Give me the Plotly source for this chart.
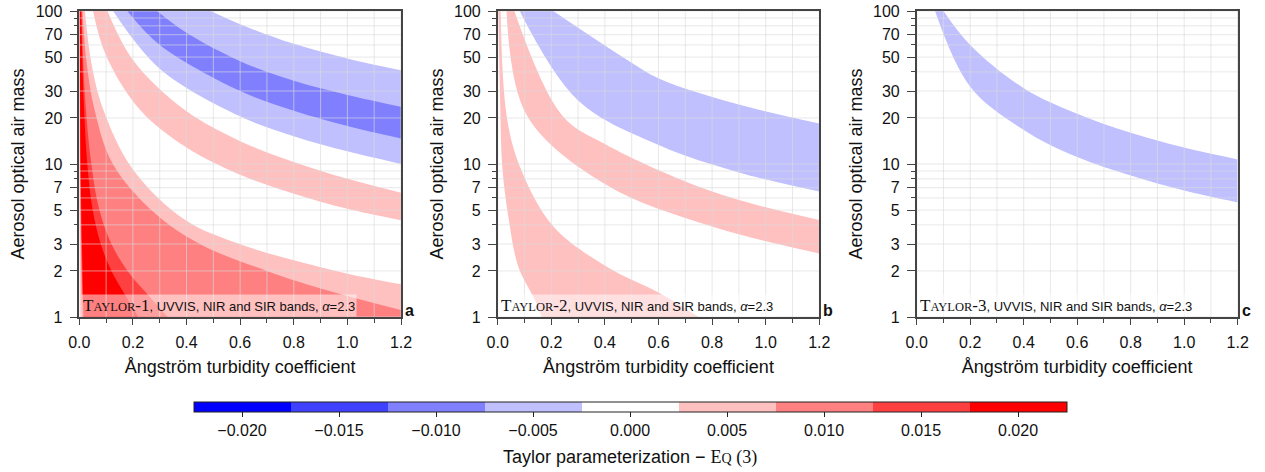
import plotly.graph_objects as go

# ---------------- data ----------------
BETA_MAX = 1.2
M_MIN, M_MAX = 1, 100

LEVELS = [-0.0225, -0.0175, -0.0125, -0.0075, -0.0025, 0.0025, 0.0075, 0.0125, 0.0175, 0.0225]
LEVEL_COLORS = ["#0000FF", "#4040FF", "#8080FF", "#C0C0FF", "#FFFFFF",
                "#FFC0C0", "#FF8080", "#FF4040", "#FF0000"]
CBAR_TICKS = [-0.020, -0.015, -0.010, -0.005, 0.000, 0.005, 0.010, 0.015, 0.020]

X_TICKS = [0.0, 0.2, 0.4, 0.6, 0.8, 1.0, 1.2]
X_MINOR = [0.1, 0.3, 0.5, 0.7, 0.9, 1.1]
Y_TICKS = [1, 2, 3, 5, 7, 10, 20, 30, 50, 70, 100]
Y_MINOR = [4, 6, 8, 9, 40, 60, 80, 90]

# Contour boundaries: (beta values, air-mass values), listed from the top edge downwards.
# Panel a (Taylor-1)
a_white_pink_beta = [0.0004, 0.001, 0.002, 0.004]
a_white_pink_m = [100, 10, 3, 1]
a_pink_rise_beta = [0.0008, 0.003, 0.006, 0.010]
a_pink_rise_m = [100, 10, 3, 1]
a_mid_rise_beta = [0.0012, 0.004, 0.008, 0.013]
a_mid_rise_m = [100, 10, 3, 1]
a_red_rise_beta = [0.0016, 0.005, 0.010, 0.016]
a_red_rise_m = [100, 10, 3, 1]
a_red_fall_beta = [0.007, 0.015, 0.03, 0.05, 0.08, 0.12, 0.16, 0.22]
a_red_fall_m = [100, 30, 10, 5, 3, 2, 1.5, 1]
a_mid_fall_beta = [0.009, 0.02, 0.045, 0.075, 0.12, 0.18, 0.24, 0.33]
a_mid_fall_m = [100, 30, 10, 5, 3, 2, 1.5, 1]
a_dark_fall_beta = [0.012, 0.026, 0.057, 0.125, 0.28, 0.45, 0.7, 0.92, 1.2]
a_dark_fall_m = [100, 48, 22.5, 10, 4.8, 3.0, 2.0, 1.5, 1.11]
a_pink_fall_beta = [0.021, 0.045, 0.09, 0.2, 0.395, 0.6, 0.8, 1.0, 1.2]
a_pink_fall_m = [100, 45.8, 22.5, 9.2, 4.3, 2.99, 2.35, 1.92, 1.64]
a_pink2_rise_beta = [0.051, 0.1, 0.227, 0.4, 0.6, 0.8, 1.0, 1.2]
a_pink2_rise_m = [100, 51, 22.5, 12.8, 8.5, 6.4, 5.1, 4.29]
a_pink2_fall_beta = [0.105, 0.2, 0.394, 0.6, 0.8, 1.0, 1.2]
a_pink2_fall_m = [100, 47.9, 22.5, 14.1, 10.3, 8.0, 6.49]
a_lb_rise_beta = [0.126, 0.3, 0.6, 0.8, 1.0, 1.2]
a_lb_rise_m = [100, 42, 20.5, 15.2, 12.1, 10.0]
a_mb_rise_beta = [0.179, 0.3, 0.6, 0.8, 1.0, 1.2]
a_mb_rise_m = [100, 60, 30, 22.3, 17.7, 14.7]
a_mb_fall_beta = [0.29, 0.4, 0.6, 0.8, 1.0, 1.2]
a_mb_fall_m = [100, 72, 47, 35, 28.3, 23.7]
a_lb_fall_beta = [0.49, 0.6, 0.8, 1.0, 1.2]
a_lb_fall_m = [100, 82, 61, 49, 41]

# Panel b (Taylor-2)
b_pink_rise_beta = [0.0025, 0.009, 0.017, 0.04, 0.077, 0.139, 0.164]
b_pink_rise_m = [100, 26, 9.6, 4.5, 2.13, 1.29, 1]
b_pink_fall_beta = [0.011, 0.033, 0.083, 0.208, 0.407, 0.605, 0.75]
b_pink_fall_m = [100, 20.9, 9.6, 3.9, 2.13, 1.43, 1]
b_pink2_rise_beta = [0.033, 0.108, 0.4, 0.8, 1.2]
b_pink2_rise_m = [100, 20.9, 7.4, 3.9, 2.6]
b_pink2_fall_beta = [0.062, 0.239, 0.4, 0.8, 1.2]
b_pink2_fall_m = [100, 20.9, 13.5, 6.6, 4.3]
b_lb_rise_beta = [0.082, 0.3, 0.605, 0.9, 1.2]
b_lb_rise_m = [100, 26, 13.2, 8.8, 6.6]
b_lb_fall_beta = [0.207, 0.494, 0.605, 0.9, 1.2]
b_lb_fall_m = [100, 46.6, 36, 24.5, 18.4]

# Panel c (Taylor-3)
c_lb_rise_beta = [0.0685, 0.2, 0.4, 0.6, 0.8, 1.0, 1.2]
c_lb_rise_m = [100, 32, 16.7, 11.1, 8.4, 6.7, 5.6]
c_lb_fall_beta = [0.10, 0.2, 0.4, 0.6, 0.8, 1.0, 1.2]
c_lb_fall_m = [100, 60, 31.3, 21.3, 16, 12.8, 10.7]

PANEL_LABELS = ["a", "b", "c"]
PANEL_TEXT_NUM = ["1", "2", "3"]

WHITE, PINK, PINK2, PINK3, RED = LEVEL_COLORS[4:]
LBLUE, MBLUE = LEVEL_COLORS[3], LEVEL_COLORS[2]

PANELS = [
    [(a_white_pink_beta, a_white_pink_m, PINK),
     (a_pink_rise_beta, a_pink_rise_m, PINK2),
     (a_mid_rise_beta, a_mid_rise_m, PINK3),
     (a_red_rise_beta, a_red_rise_m, RED),
     (a_red_fall_beta, a_red_fall_m, PINK3),
     (a_mid_fall_beta, a_mid_fall_m, PINK2),
     (a_dark_fall_beta, a_dark_fall_m, PINK),
     (a_pink_fall_beta, a_pink_fall_m, WHITE),
     (a_pink2_rise_beta, a_pink2_rise_m, PINK),
     (a_pink2_fall_beta, a_pink2_fall_m, WHITE),
     (a_lb_rise_beta, a_lb_rise_m, LBLUE),
     (a_mb_rise_beta, a_mb_rise_m, MBLUE),
     (a_mb_fall_beta, a_mb_fall_m, LBLUE),
     (a_lb_fall_beta, a_lb_fall_m, WHITE)],
    [(b_pink_rise_beta, b_pink_rise_m, PINK),
     (b_pink_fall_beta, b_pink_fall_m, WHITE),
     (b_pink2_rise_beta, b_pink2_rise_m, PINK),
     (b_pink2_fall_beta, b_pink2_fall_m, WHITE),
     (b_lb_rise_beta, b_lb_rise_m, LBLUE),
     (b_lb_fall_beta, b_lb_fall_m, WHITE)],
    [(c_lb_rise_beta, c_lb_rise_m, LBLUE),
     (c_lb_fall_beta, c_lb_fall_m, WHITE)],
]


def corner_path(beta, m):
    """Path from the curve's top end round the top-right part of the frame to its other end."""
    xs, ys = [beta[0], BETA_MAX], [M_MAX, M_MAX]
    if m[-1] <= M_MIN:
        xs += [BETA_MAX, beta[-1]]
        ys += [M_MIN, M_MIN]
    else:
        xs.append(BETA_MAX)
        ys.append(m[-1])
    return xs, ys


FONT = "Liberation Sans"
SERIF = "Liberation Serif"
TXT = "#111111"
W, H = 1265, 472
X_DOMAINS = [(79.3, 401.0), (497.7, 819.3), (916.7, 1237.7)]
Y_TOP, Y_BOT = 11, 317
GRID = "rgba(218,218,218,0.62)"
AXCOL = "#444444"

fig = go.Figure()

for i, panel in enumerate(PANELS):
    sfx = "" if i == 0 else str(i + 1)
    ax = dict(xaxis="x" + sfx, yaxis="y" + sfx, hoverinfo="skip", showlegend=False)
    for beta, m, col in panel:
        # the contour line itself (smoothed), then the frame path filled back to it
        fig.add_trace(go.Scatter(x=beta, y=m, mode="lines",
                                 line=dict(width=0, shape="spline", smoothing=1.0), **ax))
        cx, cy = corner_path(beta, m)
        fig.add_trace(go.Scatter(x=cx, y=cy, mode="lines", fill="tonext",
                                 fillcolor=col, line=dict(width=0), **ax))

    # grid lines drawn above the filled bands
    gx, gy = [], []
    for v in sorted(X_TICKS + X_MINOR):
        gx += [v, v, None]
        gy += [M_MIN, M_MAX, None]
    for v in sorted(Y_TICKS + Y_MINOR):
        gx += [0, BETA_MAX, None]
        gy += [v, v, None]
    fig.add_trace(go.Scatter(x=gx, y=gy, mode="lines",
                             line=dict(color=GRID, width=1), **ax))

    d0, d1 = X_DOMAINS[i]
    fig.update_layout(**{
        "xaxis" + sfx: dict(
            domain=[d0 / W, d1 / W], anchor="y" + sfx, range=[0, BETA_MAX],
            automargin=False, tickvals=X_TICKS, tickformat=".1f", ticks="outside",
            ticklen=6, tickcolor=AXCOL, showline=True, mirror=True, linecolor=AXCOL,
            linewidth=1.5, showgrid=False, zeroline=False, ticklabelstandoff=4,
            minor=dict(tickvals=X_MINOR, ticks="outside", ticklen=4, tickcolor=AXCOL,
                       showgrid=False),
            layer="above traces",
            tickfont=dict(family=FONT, size=16, color=TXT),
            title=dict(text="Ångström turbidity coefficient", standoff=10,
                       font=dict(family=FONT, size=18, color=TXT))),
        "yaxis" + sfx: dict(
            domain=[1 - Y_BOT / H, 1 - Y_TOP / H], anchor="x" + sfx,
            type="log", range=[0, 2], automargin=False, tickvals=Y_TICKS,
            ticks="outside", ticklen=8, tickcolor=AXCOL, showline=True, mirror=True,
            linecolor=AXCOL, linewidth=1.5, showgrid=False, zeroline=False,
            ticklabelstandoff=4,
            minor=dict(tickvals=Y_MINOR, ticks="outside", ticklen=4, tickcolor=AXCOL,
                       showgrid=False),
            layer="above traces",
            tickfont=dict(family=FONT, size=16, color=TXT),
            title=dict(text="Aerosol optical air mass", standoff=6,
                       font=dict(family=FONT, size=18, color=TXT))),
    })

    fig.add_annotation(
        xref="x%s domain" % sfx, yref="y%s domain" % sfx, x=0.004, y=0.0,
        xanchor="left", yanchor="bottom", showarrow=False,
        text=('<span style="font-family:%s;font-size:17px">T<span style="font-size:12.5px">AYLOR'
              '</span>-%s</span>, UVVIS, NIR and SIR bands, <i>α</i>=2.3') % (SERIF, PANEL_TEXT_NUM[i]),
        font=dict(family=FONT, size=13, color=TXT),
        bgcolor="rgba(255,255,255,0.5)", borderpad=1)
    fig.add_annotation(
        xref="x%s domain" % sfx, yref="y%s domain" % sfx, x=1.006, y=0.02,
        xanchor="left", yanchor="middle", showarrow=False,
        text="<b>%s</b>" % PANEL_LABELS[i], font=dict(family=FONT, size=16, color=TXT))

# colour bar
cs = []
n = len(LEVEL_COLORS)
for k, c in enumerate(LEVEL_COLORS):
    cs += [[k / n, c], [(k + 1) / n, c]]

CB_X0, CB_X1 = 193.3, 1066.7
fig.add_trace(go.Scatter(
    x=[None], y=[None], mode="markers", showlegend=False, hoverinfo="skip",
    xaxis="x3", yaxis="y3",
    marker=dict(color=[0.0], colorscale=cs, cmin=LEVELS[0], cmax=LEVELS[-1], showscale=True,
                colorbar=dict(
                    orientation="h", x=(CB_X0 + CB_X1) / 2 / W, xanchor="center",
                    y=1 - 402.3 / H, yanchor="top", len=(CB_X1 - CB_X0) / W, lenmode="fraction",
                    thickness=10, thicknessmode="pixels", outlinewidth=1, outlinecolor="#222",
                    xpad=0, ypad=0, tickvals=CBAR_TICKS, tickformat=".3f",
                    ticks="outside", ticklen=5, tickcolor="#222",
                    tickfont=dict(family=FONT, size=16, color=TXT)))))

fig.add_annotation(
    xref="paper", yref="paper", x=(CB_X0 + CB_X1) / 2 / W, y=1 - 457 / H,
    xanchor="center", yanchor="middle", showarrow=False,
    text=('Taylor parameterization − <span style="font-family:%s">E'
          '<span style="font-size:14px">Q</span> (3)</span>') % SERIF,
    font=dict(family=FONT, size=18, color=TXT))

fig.update_layout(width=W, height=H, margin=dict(l=0, r=0, t=0, b=0),
                  paper_bgcolor="white", plot_bgcolor="white", showlegend=False)

fig.write_html("out.html")
